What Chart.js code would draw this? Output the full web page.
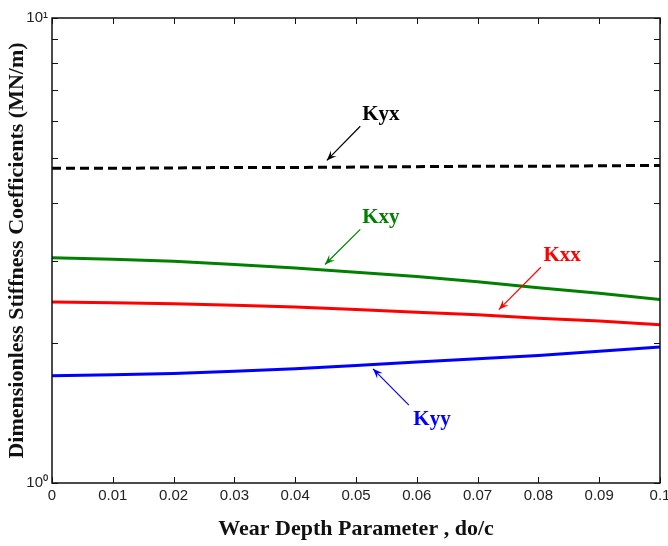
<!DOCTYPE html>
<html>
<head>
<meta charset="utf-8">
<script src="https://cdn.jsdelivr.net/npm/chart.js@4/dist/chart.umd.min.js"></script>
<style>
  html, body { margin: 0; padding: 0; background: #fff; }
  #wrap { width: 668px; height: 546px; }
</style>
</head>
<body>
<div id="wrap"><canvas id="stiffness"></canvas></div>
<script>
// wear depth parameter do/c
const depth = [0, 0.01, 0.02, 0.03, 0.04, 0.05, 0.06, 0.07, 0.08, 0.09, 0.1];

// dimensionless stiffness coefficients
const kyx = [4.75, 4.75, 4.76, 4.77, 4.77, 4.78, 4.79, 4.80, 4.80, 4.81, 4.82];
const kxy = [3.05, 3.03, 3.00, 2.95, 2.90, 2.84, 2.78, 2.71, 2.63, 2.56, 2.48];
const kxx = [2.45, 2.44, 2.43, 2.41, 2.39, 2.36, 2.33, 2.30, 2.26, 2.23, 2.19];
const kyy = [1.70, 1.71, 1.72, 1.74, 1.76, 1.79, 1.82, 1.85, 1.88, 1.92, 1.96];

const xTicks = [0, 0.01, 0.02, 0.03, 0.04, 0.05, 0.06, 0.07, 0.08, 0.09, 0.1];
const yTicks = [1, 2, 3, 4, 5, 6, 7, 8, 9, 10];

// label text, label position, arrow start, arrow tip (data units)
const notes = [
  { text: 'Kyx', color: '#000000', at: [0.0541, 6.21], from: [0.0507, 5.85], to: [0.0452, 4.94] },
  { text: 'Kxy', color: '#008000', at: [0.0541, 3.73], from: [0.0507, 3.51], to: [0.0449, 2.95] },
  { text: 'Kxx', color: '#ff0000', at: [0.0839, 3.09], from: [0.0804, 2.91], to: [0.0735, 2.36] },
  { text: 'Kyy', color: '#0000ff', at: [0.0625, 1.37], from: [0.0587, 1.47], to: [0.0528, 1.76] },
];

const toPts = (ys) => depth.map((d, i) => ({ x: d, y: ys[i] }));

// box, inward ticks and the arrow labels
const framePlugin = {
  id: 'frame',
  afterDraw(chart) {
    const { ctx, chartArea: a, scales: { x, y } } = chart;
    ctx.save();
    ctx.strokeStyle = '#111';
    ctx.lineWidth = 1.5;
    ctx.strokeRect(a.left, a.top, a.right - a.left, a.bottom - a.top);

    ctx.lineWidth = 1;
    ctx.beginPath();
    xTicks.forEach((t) => {
      const px = Math.round(x.getPixelForValue(t)) + 0.5;
      ctx.moveTo(px, a.bottom); ctx.lineTo(px, a.bottom - 6);
      ctx.moveTo(px, a.top); ctx.lineTo(px, a.top + 6);
    });
    yTicks.forEach((t) => {
      const py = Math.round(y.getPixelForValue(t)) + 0.5;
      ctx.moveTo(a.left, py); ctx.lineTo(a.left + 6, py);
      ctx.moveTo(a.right, py); ctx.lineTo(a.right - 6, py);
    });
    ctx.stroke();

    notes.forEach((n) => {
      const tx = x.getPixelForValue(n.at[0]);
      const ty = y.getPixelForValue(n.at[1]);
      const fx = x.getPixelForValue(n.from[0]);
      const fy = y.getPixelForValue(n.from[1]);
      const ex = x.getPixelForValue(n.to[0]);
      const ey = y.getPixelForValue(n.to[1]);

      ctx.fillStyle = n.color;
      ctx.font = 'bold 21px "Liberation Serif", "Times New Roman", serif';
      ctx.textAlign = 'center';
      ctx.textBaseline = 'middle';
      ctx.fillText(n.text, tx, ty);

      ctx.strokeStyle = n.color;
      ctx.lineWidth = 1.2;
      ctx.beginPath();
      ctx.moveTo(fx, fy);
      ctx.lineTo(ex, ey);
      ctx.stroke();

      const ang = Math.atan2(ey - fy, ex - fx);
      const len = 10, half = 4;
      ctx.beginPath();
      ctx.moveTo(ex, ey);
      ctx.lineTo(ex - len * Math.cos(ang) + half * Math.sin(ang), ey - len * Math.sin(ang) - half * Math.cos(ang));
      ctx.lineTo(ex - len * 0.6 * Math.cos(ang), ey - len * 0.6 * Math.sin(ang));
      ctx.lineTo(ex - len * Math.cos(ang) - half * Math.sin(ang), ey - len * Math.sin(ang) + half * Math.cos(ang));
      ctx.closePath();
      ctx.fill();
    });
    ctx.restore();
  },
};

const line = (label, ys, color, dash) => ({
  label,
  data: toPts(ys),
  borderColor: color,
  backgroundColor: color,
  borderWidth: 3,
  borderDash: dash || [],
  pointRadius: 0,
  tension: 0,
});

new Chart(document.getElementById('stiffness'), {
  type: 'line',
  data: {
    datasets: [
      line('Kyx', kyx, '#000000', [9, 5]),
      line('Kxy', kxy, '#008000'),
      line('Kxx', kxx, '#ff0000'),
      line('Kyy', kyy, '#0000ff'),
    ],
  },
  options: {
    responsive: true,
    maintainAspectRatio: false,
    animation: false,
    layout: { padding: { top: 18, right: 0, left: 0, bottom: 0 } },
    plugins: { legend: { display: false }, tooltip: { enabled: false } },
    scales: {
      x: {
        type: 'linear',
        min: 0,
        max: 0.1,
        afterBuildTicks: (s) => { s.ticks = xTicks.map((v) => ({ value: v })); },
        afterFit: (s) => { s.height = 63; s.paddingRight = 8; s.paddingLeft = 0; },
        grid: { display: false, drawTicks: false },
        border: { display: false },
        ticks: {
          padding: 4,
          maxRotation: 0,
          color: '#222',
          font: { family: '"Liberation Sans", Arial, sans-serif', size: 15 },
          callback: (v) => String(Number(v.toFixed(2))),
        },
        title: {
          display: true,
          text: 'Wear Depth Parameter , do/c',
          color: '#111',
          padding: { top: 0, bottom: 3 },
          font: { family: '"Liberation Serif", "Times New Roman", serif', size: 22, weight: 'bold' },
        },
      },
      y: {
        type: 'logarithmic',
        min: 1,
        max: 10,
        afterBuildTicks: (s) => { s.ticks = yTicks.map((v) => ({ value: v })); },
        afterFit: (s) => { s.width = 52; },
        grid: { display: false, drawTicks: false },
        border: { display: false },
        ticks: {
          autoSkip: false,
          padding: 4,
          color: '#222',
          font: { family: '"Liberation Sans", Arial, sans-serif', size: 15 },
          callback: (v) => (v === 1 ? '10\u2070' : v === 10 ? '10\u00b9' : ''),
        },
        title: {
          display: true,
          text: 'Dimensionless Stiffness Coefficients (MN/m)',
          color: '#111',
          padding: { top: 4, bottom: 0 },
          font: { family: '"Liberation Serif", "Times New Roman", serif', size: 22, weight: 'bold' },
        },
      },
    },
  },
  plugins: [framePlugin],
});
</script>
</body>
</html>
